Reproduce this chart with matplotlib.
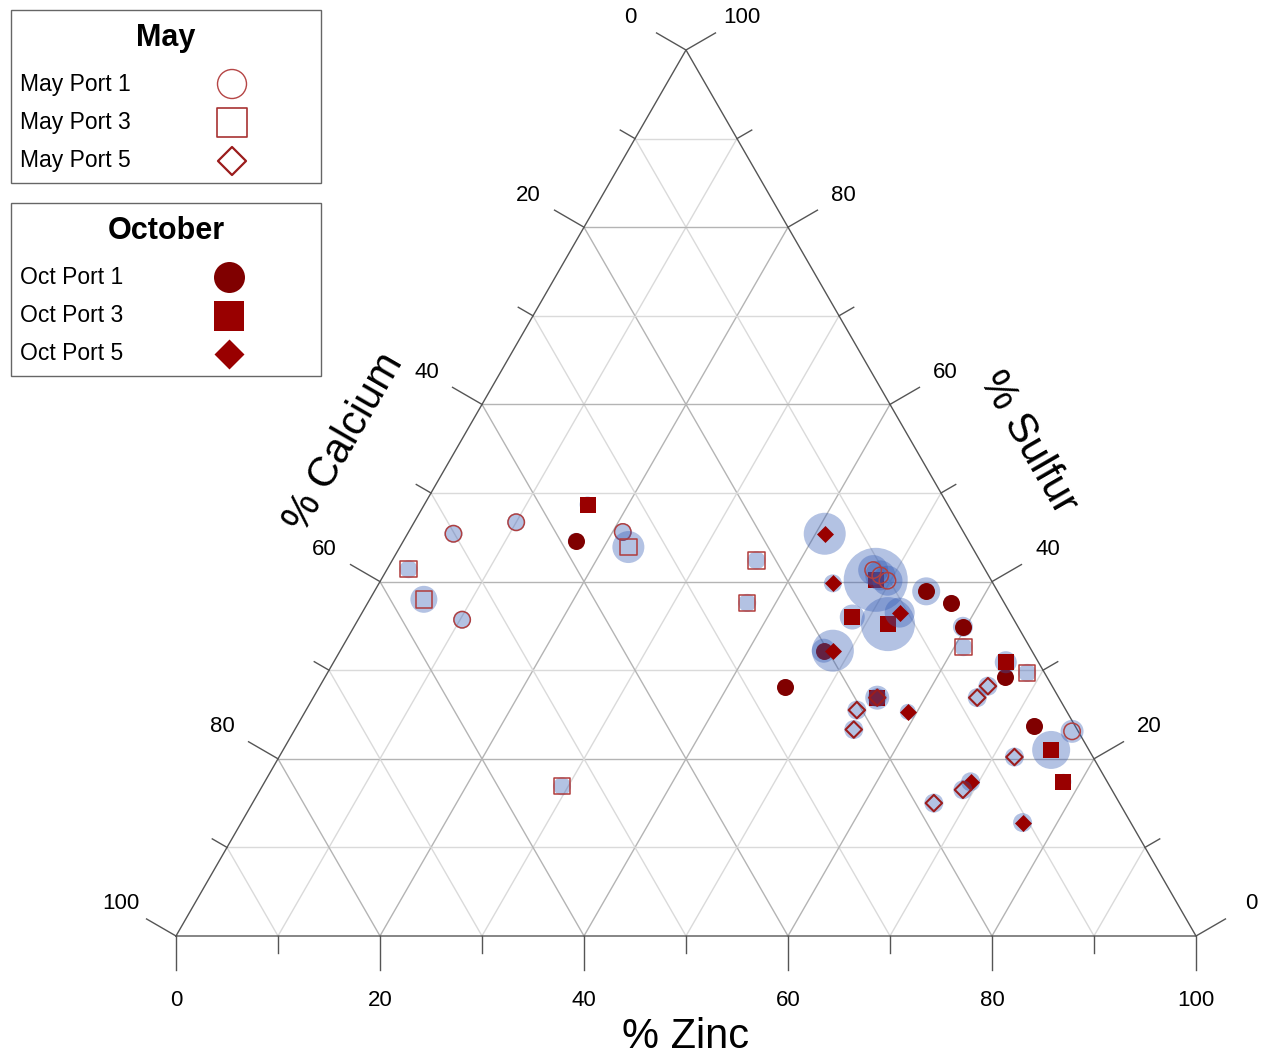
import numpy as np
import matplotlib.pyplot as plt
from matplotlib.patches import Rectangle

plt.rcParams['font.family'] = ['Liberation Sans', 'DejaVu Sans']

# composition in percent: zinc and sulfur, calcium is the remainder
# halo = spread of the replicate samples (drawn as the blue disc)
oct1_zn = [16.9, 45.7, 54.1, 57.2, 59.7, 47.4, 66.7, 72.3]
oct1_s = [44.6, 28.1, 38.9, 37.6, 34.9, 32.2, 29.2, 23.7]
oct1_halo = [8, 8, 14, 8, 10, 12, 8, 8]

oct3_zn = [16.0, 48.3, 52.2, 48.5, 55.3, 65.9, 75.3, 78.3]
oct3_s = [48.7, 36.0, 35.2, 40.2, 26.9, 30.9, 21.0, 17.4]
oct3_halo = [8, 12.5, 27, 32, 12, 11, 19, 8]

oct5_zn = [40.9, 44.5, 52.7, 48.3, 59.1, 69.2, 76.6]
oct5_s = [45.4, 39.8, 36.5, 32.2, 25.3, 17.4, 12.8]
oct5_halo = [21, 9, 15, 21, 8, 9.5, 9.5]

may1_zn = [4.5, 10.0, 21.0, 10.2, 47.7, 48.7, 49.7, 76.3]
may1_s = [45.4, 46.7, 45.6, 35.7, 41.3, 40.7, 40.1, 23.1]
may1_halo = [9, 9, 9, 9, 15, 15, 15, 11.5]

may3_zn = [22.4, 2.1, 5.3, 35.7, 37.2, 29.4, 60.9, 68.6]
may3_s = [43.9, 41.4, 38.0, 42.4, 37.6, 16.9, 32.6, 29.7]
may3_halo = [16, 9, 13.5, 9, 9, 9, 9, 9]

may5_zn = [54.0, 54.8, 65.1, 65.5, 72.1, 68.9, 66.8, 55.3]
may5_s = [25.5, 23.3, 26.9, 28.2, 20.2, 16.5, 15.0, 26.9]
may5_halo = [9.5, 9.5, 9.5, 9.5, 9.5, 9.5, 9.5, 9.5]

ticks = np.arange(0, 101, 10)

H = np.sqrt(3) / 2
PX = 1020.0  # pixels per unit along the base


def tern(zn, s):
    zn = np.asarray(zn, dtype=float) / 100.0
    s = np.asarray(s, dtype=float) / 100.0
    return zn + s / 2, s * H


def halo_area(r):
    # radius in pixels -> scatter area in pt^2
    return (2 * np.asarray(r) * 0.72) ** 2


fig = plt.figure(figsize=(12.65, 10.55), dpi=100)
ax = fig.add_axes([0, 0, 1, 1])
ax.set_xlim(-176 / PX, 1089 / PX)
yscale = 886 / H
ax.set_ylim(-119 / yscale, 936 / yscale)
ax.axis('off')

# grid lines
for v in range(10, 100, 10):
    col = '#b4b4b4' if v % 20 == 0 else '#dadada'
    segs = [
        tern([0, 100 - v], [v, v]),          # constant sulfur
        tern([v, v], [0, 100 - v]),          # constant zinc
        tern([100 - v, 0], [0, 100 - v]),    # constant calcium
    ]
    for xs, ys in segs:
        ax.plot(xs, ys, color=col, lw=1.0, zorder=1)

# outer triangle
xs, ys = tern([0, 100, 0, 0], [0, 0, 100, 0])
ax.plot(xs, ys, color='#555555', lw=1.0, zorder=2)

# ticks and tick labels
c30, s30 = np.cos(np.pi / 6), np.sin(np.pi / 6)
lab_off = 64 / PX
for t in ticks:
    L = (34 if t % 20 == 0 else 17) / PX
    # bottom: zinc
    bx, by = tern(t, 0)
    ax.plot([bx, bx], [by, by - L], color='#555555', lw=1.0)
    # left: calcium (zinc = 0)
    lx, ly = tern(0, 100 - t)
    ax.plot([lx, lx - L * c30], [ly, ly + L * s30], color='#555555', lw=1.0)
    # right: sulfur
    rx, ry = tern(100 - t, t)
    ax.plot([rx, rx + L * c30], [ry, ry + L * s30], color='#555555', lw=1.0)
    if t % 20 == 0:
        ax.text(bx, by - lab_off, str(t), ha='center', va='center', fontsize=16)
        ax.text(lx - lab_off * c30, ly + lab_off * s30, str(t),
                ha='center', va='center', fontsize=16)
        ax.text(rx + lab_off * c30, ry + lab_off * s30, str(t),
                ha='center', va='center', fontsize=16)

# axis titles
d = 100 / PX
ax.text(0.5, -101 / PX, '% Zinc', ha='center', va='center', fontsize=30)
ax.text(0.25 - d * c30, H / 2 + d * s30, '% Calcium', ha='center', va='center',
        fontsize=30, rotation=60, rotation_mode='anchor')
ax.text(0.75 + d * c30, H / 2 + d * s30, '% Sulfur', ha='center', va='center',
        fontsize=30, rotation=-60, rotation_mode='anchor')

halo_kw = dict(color='#325ab4', alpha=0.37, linewidths=0)
series = [
    (oct1_zn, oct1_s, oct1_halo, dict(marker='o', s=150, color='#800000', linewidths=0)),
    (oct3_zn, oct3_s, oct3_halo, dict(marker='s', s=144, color='#990000', linewidths=0)),
    (oct5_zn, oct5_s, oct5_halo, dict(marker='D', s=75, color='#990000', linewidths=0)),
    (may1_zn, may1_s, may1_halo, dict(marker='o', s=140, facecolors='none',
                                      edgecolors='#b04040', linewidths=1.1)),
    (may3_zn, may3_s, may3_halo, dict(marker='s', s=140, facecolors='none',
                                      edgecolors='#b03c3c', linewidths=1.1)),
    (may5_zn, may5_s, may5_halo, dict(marker='D', s=70, facecolors='none',
                                      edgecolors='#9c1c1c', linewidths=1.5)),
]
z = 5
for zn, s, halo, mk in series:
    x, y = tern(zn, s)
    ax.scatter(x, y, s=halo_area(halo), zorder=z, **halo_kw)
    ax.scatter(x, y, zorder=z + 1, **mk)
    z += 2

# legend boxes, drawn in pixel coordinates
lax = fig.add_axes([0, 0, 1, 1], facecolor='none')
lax.set_xlim(0, 1265)
lax.set_ylim(1055, 0)
lax.axis('off')

groups = [
    ('May', 10, ['May Port 1', 'May Port 3', 'May Port 5'],
     [dict(marker='o', s=436, facecolors='none', edgecolors='#b54545', linewidths=1.0),
      dict(marker='s', s=436, facecolors='none', edgecolors='#a83232', linewidths=1.2),
      dict(marker='D', s=204, facecolors='none', edgecolors='#9b1c1c', linewidths=1.6)], 232),
    ('October', 203, ['Oct Port 1', 'Oct Port 3', 'Oct Port 5'],
     [dict(marker='o', s=498, color='#800000', linewidths=0),
      dict(marker='s', s=498, color='#990000', linewidths=0),
      dict(marker='D', s=233, color='#990000', linewidths=0)], 229),
]
for title, top, labels, markers, mx in groups:
    lax.add_patch(Rectangle((11, top), 310, 173, facecolor='white',
                            edgecolor='#666666', lw=1.0))
    lax.text(166, top + 28, title, ha='center', va='center', fontsize=22,
             fontweight='bold')
    for i, (lab, mk) in enumerate(zip(labels, markers)):
        yy = top + 74 + 38.5 * i
        lax.text(20, yy, lab, ha='left', va='center', fontsize=16.5)
        lax.scatter([mx], [yy], **mk)

fig.savefig('out.png', dpi=100)
